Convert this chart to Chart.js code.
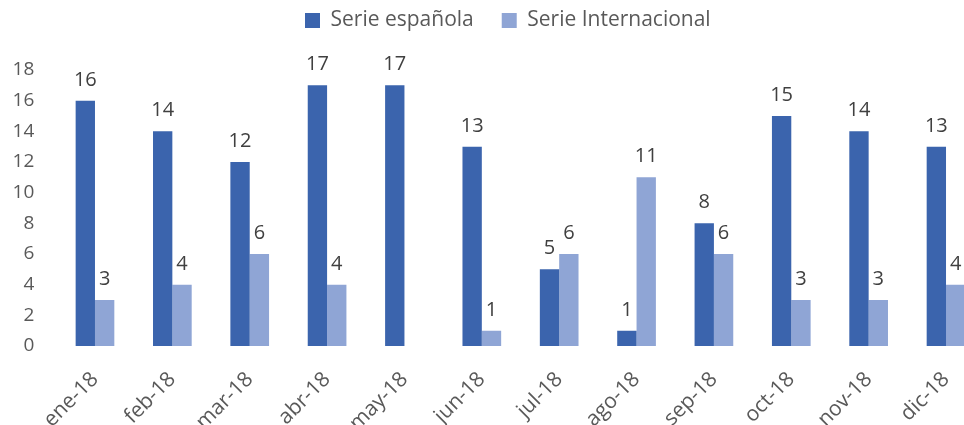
<!DOCTYPE html>
<html>
<head>
<meta charset="utf-8">
<script src="https://cdn.jsdelivr.net/npm/chart.js@4"></script>
<style>
  html, body { margin: 0; padding: 0; background: #ffffff; overflow: hidden; width: 964px; height: 425px; }
  #wrap { position: absolute; left: 0; top: 0; width: 1000px; height: 425px; }
</style>
</head>
<body>
<div id="wrap"><canvas id="c" width="1000" height="425"></canvas></div>
<script>
const categories = ['ene-18','feb-18','mar-18','abr-18','may-18','jun-18','jul-18','ago-18','sep-18','oct-18','nov-18','dic-18'];
const serieEspanola = [16, 14, 12, 17, 17, 13, 5, 1, 8, 15, 14, 13];
const serieInternacional = [3, 4, 6, 4, null, 1, 6, 11, 6, 3, 3, 4];
const seriesNames = ['Serie española', 'Serie Internacional'];
const yTicks = [0, 2, 4, 6, 8, 10, 12, 14, 16, 18];

const FONT = '"Open Sans", "Liberation Sans", sans-serif';
const LEGEND_FONT = 21;
const LEGEND_PAD = 28;
const LEGEND_TOP = 20.5 - LEGEND_PAD - LEGEND_FONT / 2;

const valueLabels = {
  id: 'valueLabels',
  afterDatasetsDraw(chart) {
    const ctx = chart.ctx;
    ctx.save();
    ctx.font = '20px ' + FONT;
    ctx.fillStyle = '#404040';
    ctx.textAlign = 'center';
    ctx.textBaseline = 'alphabetic';
    chart.data.datasets.forEach((ds, i) => {
      const meta = chart.getDatasetMeta(i);
      meta.data.forEach((el, j) => {
        const v = ds.data[j];
        if (v === null || v === undefined) return;
        ctx.fillText(String(v), el.x, el.y - 15);
      });
    });
    ctx.restore();
  }
};

const legendTweak = {
  id: 'legendTweak',
  beforeInit(chart) {
    const lg = chart.legend;
    if (lg) {
      const orig = lg.fit;
      lg.fit = function () { orig.call(this); this.height = 70 - LEGEND_TOP; };
    }
  },
  afterLayout(chart) {
    const lg = chart.legend;
    if (!lg || !lg.lineWidths) return;
    const start = (lg.left + LEGEND_PAD + lg.right - lg.lineWidths[0]) / 2;
    const dx = 305 - start;
    lg.left += dx;
    lg.right += dx;
  }
};

new Chart(document.getElementById('c'), {
  type: 'bar',
  data: {
    labels: categories,
    datasets: [
      { label: seriesNames[0], data: serieEspanola, backgroundColor: '#3B64AD', borderWidth: 0,
        categoryPercentage: 0.5, barPercentage: 1.0 },
      { label: seriesNames[1], data: serieInternacional, backgroundColor: '#8FA5D5', borderWidth: 0,
        categoryPercentage: 0.5, barPercentage: 1.0 }
    ]
  },
  options: {
    responsive: false,
    animation: false,
    layout: { padding: { left: 4, right: 15.3, top: LEGEND_TOP, bottom: 0 } },
    plugins: {
      legend: {
        position: 'top',
        labels: {
          boxWidth: 15, boxHeight: 15, padding: LEGEND_PAD,
          color: '#595959',
          font: { family: FONT, size: LEGEND_FONT }
        }
      },
      tooltip: { enabled: false }
    },
    scales: {
      x: {
        grid: { display: false, drawTicks: false },
        border: { display: false },
        ticks: {
          color: '#595959', font: { family: FONT, size: 21 },
          minRotation: 45, maxRotation: 45, autoSkip: false, padding: 21
        },
        afterFit(scale) { scale.height = 79; }
      },
      y: {
        min: 0, max: 18,
        grid: { display: false, drawTicks: false },
        border: { display: false },
        afterBuildTicks(scale) { scale.ticks = yTicks.map(v => ({ value: v })); },
        ticks: { color: '#595959', font: { family: FONT, size: 19 }, padding: 22 },
        afterFit(scale) { scale.width = 52.3; }
      }
    }
  },
  plugins: [valueLabels, legendTweak]
});
</script>
</body>
</html>
